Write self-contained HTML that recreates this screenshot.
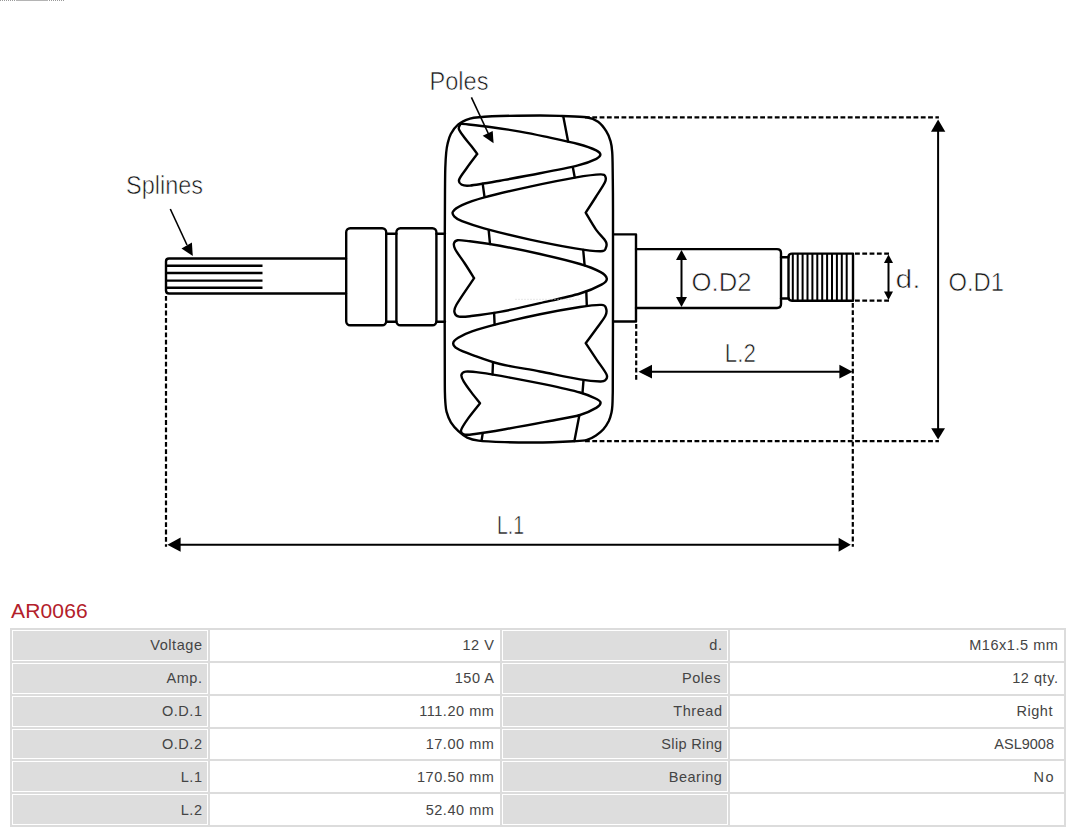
<!DOCTYPE html>
<html>
<head>
<meta charset="utf-8">
<style>
html,body{margin:0;padding:0;background:#fff;}
body{width:1080px;height:832px;overflow:hidden;position:relative;font-family:"Liberation Sans",sans-serif;}
#dia{position:absolute;left:0;top:0;}
#title{position:absolute;left:11px;top:599px;font-size:21px;line-height:24px;color:#b3202a;letter-spacing:0.15px;}
table{position:absolute;left:10px;top:628px;width:1056px;border-collapse:separate;border-spacing:2px;background:#dcdcdc;table-layout:fixed;}
td{border:1px solid #fff;height:30.85px;padding:0 4.5px 0 0;text-align:right;font-size:14.5px;letter-spacing:0.55px;color:#444;box-sizing:border-box;white-space:nowrap;}
td.l{background:#dddddd;}
td.v{background:#fff;}
</style>
</head>
<body>
<svg id="topline" width="70" height="2" style="position:absolute;left:0;top:0"><path d="M0,0.5 H16 M49,0.5 H65" stroke="#9a9a9a" stroke-width="1" stroke-dasharray="1 1"/><path d="M16,0.5 H48" stroke="#b4b4b4" stroke-width="1"/></svg>
<svg id="dia" width="1080" height="600" viewBox="0 0 1080 600">
<g fill="none" stroke="#000" stroke-width="2.4" stroke-linejoin="round" stroke-linecap="round">
  <!-- left splined shaft -->
  <path d="M346,258.5 H169 Q166,258.5 166,261.5 V290.5 Q166,293.5 169,293.5 H346"/>
  <path stroke-linecap="butt" d="M166,265.8 H262.5 M166,273 H262.5 M166,280.6 H262.5 M166,287.8 H262.5"/>
  <!-- bearing blocks -->
  <rect x="346.2" y="228.3" width="40" height="97" rx="4"/>
  <rect x="396.4" y="228.3" width="40" height="97" rx="4"/>
  <path d="M386.3,233.8 H396.4 M386.3,321.8 H396.4 M436.5,233.8 H445 M436.5,321.8 H445"/>
  <!-- rotor outline -->
  <path id="outline" d="M482.0,117.0 C487.0,116.6 490.3,116.2 500.0,116.0 C509.7,115.8 529.7,115.5 540.0,115.5 C550.3,115.5 554.2,115.7 562.0,116.0 C569.8,116.3 580.5,116.3 586.5,117.3 C592.5,118.3 594.8,119.5 598.1,121.8 C601.4,124.1 604.1,127.9 606.2,131.2 C608.3,134.4 609.6,137.8 610.6,141.3 C611.6,144.8 611.9,146.9 612.2,152.0 C612.6,157.1 612.6,162.3 612.7,172.0 C612.8,181.7 613.0,188.7 613.0,210.0 C613.0,231.3 613.0,271.7 613.0,300.0 C613.0,328.3 612.8,364.2 612.8,380.0 C612.8,395.8 612.8,390.8 612.7,395.0 C612.6,399.2 612.6,402.1 612.4,405.0 C612.2,407.9 612.1,409.8 611.5,412.5 C610.9,415.2 610.1,418.2 608.8,421.0 C607.4,423.8 605.5,426.8 603.4,429.2 C601.3,431.6 598.7,433.6 596.0,435.4 C593.3,437.2 590.8,438.8 587.0,439.8 C583.2,440.8 579.1,440.9 573.3,441.3 C567.5,441.7 559.2,442.1 552.0,442.3 C544.8,442.5 537.9,442.5 530.0,442.5 C522.1,442.5 513.5,442.4 504.9,442.1 C496.3,441.8 484.8,441.4 478.5,440.6 C472.2,439.9 470.6,439.2 467.2,437.6 C463.8,436.0 461.1,433.7 458.4,431.2 C455.7,428.7 452.9,425.6 450.9,422.4 C448.9,419.2 447.5,415.1 446.6,411.9 C445.7,408.7 445.7,406.3 445.4,403.0 C445.1,399.7 445.0,396.7 444.9,392.0 C444.8,387.3 444.8,387.0 444.8,375.0 C444.8,363.0 444.7,343.5 444.7,320.0 C444.7,296.5 444.8,255.7 444.8,234.0 C444.9,212.3 444.9,201.0 445.0,190.0 C445.1,179.0 445.1,174.2 445.3,168.0 C445.5,161.8 445.8,156.6 446.2,152.5 C446.6,148.4 446.8,146.8 447.6,143.7 C448.4,140.6 449.1,137.2 450.8,134.0 C452.5,130.8 454.8,127.2 458.0,124.6 C461.2,122.0 466.0,119.9 470.0,118.6 C474.0,117.3 477.0,117.4 482.0,117.0 Z"/>
  <!-- right collar -->
  <path d="M613.5,234.4 H636 V321.5 H613.5"/>
  <!-- right shaft -->
  <path d="M636,249.1 H777 Q781,249.1 781,253 V304 Q781,308 777,308 H636"/>
  <!-- neck -->
  <path d="M781,257.3 H788.5 M781,298.5 H788.5"/>
  <!-- thread -->
  <path d="M853,253.6 H792 Q788.5,253.6 788.5,257 V297.3 Q788.5,300.7 792,300.7 H853 Z"/>
  <path stroke-linecap="butt" d="M792.8,254 V300.3 M797.7,254 V300.3 M802.6,254 V300.3 M807.5,254 V300.3 M812.4,254 V300.3 M817.3,254 V300.3 M822.2,254 V300.3 M827.1,254 V300.3 M832.0,254 V300.3 M836.9,254 V300.3 M841.8,254 V300.3 M846.7,254 V300.3" stroke-width="2"/>
  <!-- poles -->
  <g id="poles">
    <path d="M477.3,154.0 C476.3,152.7 473.5,148.8 471.3,146.0 C469.1,143.2 466.1,139.9 464.0,137.0 C461.9,134.1 459.3,131.0 458.8,128.8 C458.3,126.6 460.5,124.5 460.8,123.6 C465.7,124.2 480.1,125.7 490.0,127.0 C499.9,128.3 511.0,130.0 520.0,131.6 C529.0,133.2 534.3,134.3 544.0,136.4 C553.7,138.5 569.3,141.7 578.0,144.0 C586.7,146.3 592.5,148.5 596.2,150.3 C599.9,152.1 600.4,153.2 600.4,154.6 C600.4,156.0 600.1,157.0 596.4,158.8 C592.7,160.6 587.4,163.0 578.0,165.4 C568.6,167.8 553.0,170.8 540.0,173.3 C527.0,175.9 511.7,178.6 500.0,180.7 C488.3,182.8 476.4,185.0 470.0,185.6 C463.6,186.2 463.2,185.5 461.4,184.5 C459.6,183.5 458.3,182.2 459.2,179.5 C460.1,176.8 463.8,172.3 466.8,168.0 C469.8,163.7 475.6,156.2 477.3,153.9 Z"/>
    <path d="M585.7,212.7 C587.4,210.1 592.6,202.0 595.8,197.0 C599.0,192.0 603.2,186.0 604.8,182.6 C606.4,179.2 606.1,178.2 605.4,176.8 C604.7,175.4 605.6,174.3 600.5,174.4 C595.4,174.5 586.8,175.6 575.0,177.6 C563.2,179.6 545.1,183.3 530.0,186.6 C514.9,189.9 495.7,194.3 484.4,197.4 C473.1,200.5 467.2,202.8 462.0,205.2 C456.8,207.6 454.3,209.7 453.0,211.6 C451.7,213.5 452.9,215.0 454.4,216.6 C455.9,218.2 457.1,219.2 462.0,221.2 C466.9,223.1 472.7,225.2 484.0,228.3 C495.3,231.4 514.8,236.2 530.0,239.6 C545.2,242.9 563.2,246.4 575.0,248.4 C586.8,250.4 595.7,251.4 600.8,251.3 C605.9,251.2 605.0,249.6 605.8,248.0 C606.6,246.4 607.4,244.7 605.8,241.6 C604.2,238.5 599.4,234.4 596.0,229.6 C592.6,224.8 587.4,215.5 585.7,212.7 Z"/>
    <path d="M474.1,278.2 C472.6,275.8 468.0,268.3 464.8,263.5 C461.6,258.7 457.0,252.6 455.2,249.2 C453.4,245.8 453.6,244.8 454.0,243.3 C454.4,241.8 454.9,240.5 457.6,240.2 C460.3,239.9 462.9,240.4 470.0,241.3 C477.1,242.2 488.3,243.7 500.0,245.8 C511.7,247.9 526.7,251.0 540.0,254.0 C553.3,257.0 570.0,261.0 580.0,264.0 C590.0,267.0 595.7,269.5 600.2,271.9 C604.7,274.3 606.6,276.5 606.8,278.6 C607.0,280.7 606.0,282.1 601.5,284.6 C597.0,287.1 590.2,290.4 580.0,293.5 C569.8,296.6 553.3,300.1 540.0,303.2 C526.7,306.3 511.7,309.7 500.0,311.9 C488.3,314.1 476.8,315.4 470.0,316.2 C463.2,317.0 461.5,317.1 459.0,316.6 C456.5,316.1 455.2,315.1 454.8,313.2 C454.4,311.3 453.1,310.8 456.3,305.0 C459.5,299.2 471.1,282.7 474.1,278.2 Z"/>
    <path d="M585.7,343.2 C587.4,340.9 592.7,333.8 596.0,329.2 C599.3,324.6 603.7,319.3 605.4,315.8 C607.1,312.3 606.7,310.1 606.0,308.3 C605.3,306.5 605.7,305.1 601.4,304.9 C597.1,304.7 590.2,305.4 580.0,307.0 C569.8,308.6 553.3,311.5 540.0,314.2 C526.7,316.9 511.3,320.5 500.0,323.4 C488.7,326.3 479.0,329.0 472.0,331.4 C465.0,333.8 461.3,335.8 458.2,337.8 C455.1,339.8 453.3,341.4 453.2,343.2 C453.1,345.0 454.5,346.9 457.6,348.8 C460.7,350.7 464.9,352.3 472.0,354.8 C479.1,357.3 488.7,361.2 500.0,364.0 C511.3,366.8 526.7,368.9 540.0,371.5 C553.3,374.1 570.0,377.7 580.0,379.4 C590.0,381.1 596.1,381.4 600.3,381.5 C604.5,381.6 604.3,381.1 605.4,380.0 C606.5,378.9 608.0,378.0 606.6,374.6 C605.2,371.2 600.3,365.0 596.8,359.8 C593.3,354.6 587.6,346.0 585.7,343.2 Z"/>
    <path d="M480.0,403.3 C478.6,401.5 474.1,396.0 471.4,392.4 C468.7,388.8 465.5,384.5 463.8,381.6 C462.1,378.7 461.1,376.7 461.4,375.0 C461.7,373.3 462.5,372.0 465.6,371.6 C468.7,371.2 472.6,371.6 480.0,372.6 C487.4,373.6 499.2,375.6 510.0,377.6 C520.8,379.6 533.3,381.9 545.0,384.4 C556.7,386.9 571.4,390.1 580.0,392.5 C588.6,394.9 593.2,397.3 596.6,399.0 C600.0,400.7 600.6,401.4 600.6,402.8 C600.6,404.2 600.0,405.6 596.6,407.6 C593.2,409.6 588.6,412.6 580.0,415.0 C571.4,417.4 557.5,419.5 545.0,421.9 C532.5,424.3 516.7,427.2 505.0,429.2 C493.3,431.2 481.7,433.1 475.0,434.0 C468.3,434.9 466.9,435.2 464.6,434.6 C462.3,434.0 460.4,433.1 461.0,430.4 C461.6,427.7 464.8,423.1 468.0,418.6 C471.2,414.1 478.0,405.9 480.0,403.3 Z"/>
  </g>
  <!-- slot lines -->
  <path d="M563.3,116.6 L568.1,141.5 M572.9,167.5 L574.7,177.3 M482.7,183.9 L484.5,196.9 M488.7,230.4 L490,244.1 M583.2,250 L584.6,265.2 M586.3,291.8 L586.8,305.8 M494.1,312.9 L494.6,324.8 M493,362.2 L492.5,374.4 M583.5,380.4 L582.5,393 M482.7,433.4 L481.6,440.5 M579.4,415.1 L574.4,441"/>
</g>
<path d="M515.5,299.3 H580" stroke="#d0d0d0" stroke-width="1" stroke-dasharray="1 2" fill="none"/>
<!-- dashed lines -->
<g fill="none" stroke="#000" stroke-width="2.2" stroke-dasharray="4.8 2.5">
  <path d="M585,117.4 H938.9"/>
  <path d="M585,441.1 H938.9"/>
  <path d="M166,296 V546.7"/>
  <path d="M852.8,303 V546.7"/>
  <path d="M636.2,324 V379.8"/>
  <path d="M855,253.6 H890.7 M855,300.7 H890.7"/>
</g>
<!-- dimension arrows -->
<g stroke="#000" stroke-width="2" fill="none">
  <path d="M938.1,128 V430"/>
  <path d="M650,371.7 H841"/>
  <path d="M178,544.7 H840"/>
  <path d="M681.5,258 V299"/>
  <path d="M888.5,262 V292"/>
</g>
<g stroke="#000" stroke-width="1.6" fill="none">
  <path d="M471.4,97.3 L489,135"/>
  <path d="M170.3,209 L187,245"/>
</g>
<g fill="#000" stroke="none">
  <path d="M938.1,119.4 L945.3,131.7 L931,131.7 Z"/>
  <path d="M938.1,439.4 L945,428.3 L931.2,428.3 Z"/>
  <path d="M638.5,371.7 L652,364.7 L652,378.6 Z"/>
  <path d="M852.6,371.7 L839.4,364.7 L839.4,378.6 Z"/>
  <path d="M167.4,544.7 L180.6,537.6 L180.6,551.8 Z"/>
  <path d="M850.8,544.7 L838.6,537.8 L838.6,551.7 Z"/>
  <path d="M681.5,250 L687,260 L676,260 Z"/>
  <path d="M681.5,307 L687,297 L676,297 Z"/>
  <path d="M888.5,254.5 L893,263 L884,263 Z"/>
  <path d="M888.5,300 L893,291.5 L884,291.5 Z"/>
  <path d="M493.6,143.3 L482.7,135.7 L492.7,130.9 Z"/>
  <path d="M192.8,255.9 L181.5,248.4 L191.9,242.5 Z"/>
</g>
<g font-family="Liberation Sans, sans-serif" fill="#151515" stroke="#fff" stroke-width="0.6" font-size="25.5">
  <text x="429.5" y="90" textLength="59" lengthAdjust="spacingAndGlyphs">Poles</text>
  <text x="126" y="194.3" textLength="77" lengthAdjust="spacingAndGlyphs">Splines</text>
  <text x="691.5" y="291" textLength="60" lengthAdjust="spacingAndGlyphs">O.D2</text>
  <text x="948.5" y="290.6" textLength="55.5" lengthAdjust="spacingAndGlyphs">O.D1</text>
  <text x="895.5" y="288.4" textLength="25" lengthAdjust="spacingAndGlyphs">d.</text>
  <text x="724.8" y="362.2" textLength="31" lengthAdjust="spacingAndGlyphs">L.2</text>
  <text x="497" y="534" textLength="27" lengthAdjust="spacingAndGlyphs">L.1</text>
</g>
</svg>
<div id="title">AR0066</div>
<table>
<colgroup><col style="width:196px"><col style="width:290px"><col style="width:226px"><col style="width:334px"></colgroup>
<tr><td class="l">Voltage</td><td class="v">12 V</td><td class="l">d.</td><td class="v">M16x1.5 mm</td></tr>
<tr><td class="l">Amp.</td><td class="v">150 A</td><td class="l" style="padding-right:6px">Poles</td><td class="v">12 qty.</td></tr>
<tr><td class="l">O.D.1</td><td class="v">111.20 mm</td><td class="l">Thread</td><td class="v" style="padding-right:10px">Right</td></tr>
<tr><td class="l">O.D.2</td><td class="v">17.00 mm</td><td class="l" style="letter-spacing:0.35px">Slip Ring</td><td class="v" style="padding-right:9px;letter-spacing:0">ASL9008</td></tr>
<tr><td class="l">L.1</td><td class="v">170.50 mm</td><td class="l">Bearing</td><td class="v" style="padding-right:8px;letter-spacing:1.5px">No</td></tr>
<tr><td class="l">L.2</td><td class="v">52.40 mm</td><td class="l"></td><td class="v"></td></tr>
</table>
</body>
</html>
